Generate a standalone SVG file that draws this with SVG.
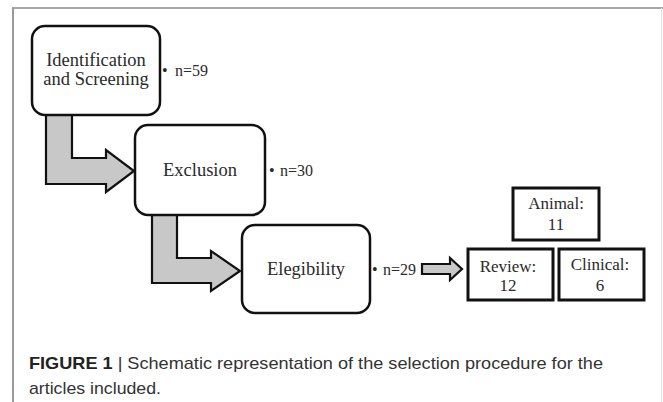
<svg xmlns="http://www.w3.org/2000/svg" width="663" height="402" viewBox="0 0 663 402">
<style>
.rbox{fill:#fff;stroke:#111;stroke-width:2.5}
.sbox{fill:#fff;stroke:#111;stroke-width:3}
.arr{fill:#c8c8c8;stroke:#111;stroke-width:2.2;stroke-linejoin:miter}
.t{font-family:"Liberation Serif","Times New Roman",serif;font-size:18.5px;fill:#2a2a2a;text-anchor:middle}
.n{font-family:"Liberation Serif","Times New Roman",serif;font-size:16px;fill:#2a2a2a}
.s{font-family:"Liberation Serif","Times New Roman",serif;font-size:17px;fill:#2a2a2a;text-anchor:middle}
.cap{font-family:"Liberation Sans",Arial,sans-serif;font-size:17px;fill:#333}
</style>
<rect x="0" y="0" width="663" height="402" fill="#fff"/>
<g id="frame">
<line x1="12" y1="8" x2="663" y2="8" stroke="#8a8a8a" stroke-width="1.5"/>
<line x1="13" y1="8" x2="13" y2="402" stroke="#9a9a9a" stroke-width="2"/>
<line x1="661.5" y1="8" x2="661.5" y2="402" stroke="#e2e2e2" stroke-width="1"/>
</g>
<g id="connectors">
<path class="arr" d="M46,114 L72,114 L72,158 L106,158 L106,150 L134,171 L106,192 L106,184 L46,184 Z"/>
<path class="arr" d="M152,214 L177,214 L177,258 L211,258 L211,251 L240,271 L211,291 L211,283 L152,283 Z"/>
<path class="arr" d="M422,264 L450,264 L450,258 L462,269 L450,280 L450,274 L422,274 Z" stroke-width="2.5"/>
</g>
<g id="identification">
<rect class="rbox" x="32" y="26" width="128" height="89" rx="13"/>
<text class="t" x="96" y="66">Identification</text>
<text class="t" x="96" y="85">and Screening</text>
<text class="n" y="76"><tspan x="162">•</tspan><tspan x="175">n=59</tspan></text>
</g>
<g id="exclusion">
<rect class="rbox" x="135" y="125" width="130" height="90" rx="13"/>
<text class="t" x="200" y="176">Exclusion</text>
<text class="n" y="176"><tspan x="269">•</tspan><tspan x="280">n=30</tspan></text>
</g>
<g id="elegibility">
<rect class="rbox" x="242" y="225" width="128" height="88" rx="13"/>
<text class="t" x="306" y="275">Elegibility</text>
<text class="n" y="275"><tspan x="372">•</tspan><tspan x="383">n=29</tspan></text>
</g>
<g id="animal">
<rect class="sbox" x="513" y="188" width="86" height="52"/>
<text class="s" x="556" y="209">Animal:</text>
<text class="s" x="556" y="230">11</text>
</g>
<g id="review">
<rect class="sbox" x="468" y="249" width="85" height="51"/>
<text class="s" x="508" y="272">Review:</text>
<text class="s" x="508" y="291">12</text>
</g>
<g id="clinical">
<rect class="sbox" x="559" y="249" width="85" height="51"/>
<text class="s" x="600" y="270">Clinical:</text>
<text class="s" x="600" y="291">6</text>
</g>
<g id="caption">
<text class="cap" x="29" y="369" textLength="574" lengthAdjust="spacingAndGlyphs"><tspan font-weight="bold" fill="#222">FIGURE 1</tspan> | Schematic representation of the selection procedure for the</text>
<text class="cap" x="29" y="394" textLength="132" lengthAdjust="spacingAndGlyphs">articles included.</text>
</g>
</svg>
